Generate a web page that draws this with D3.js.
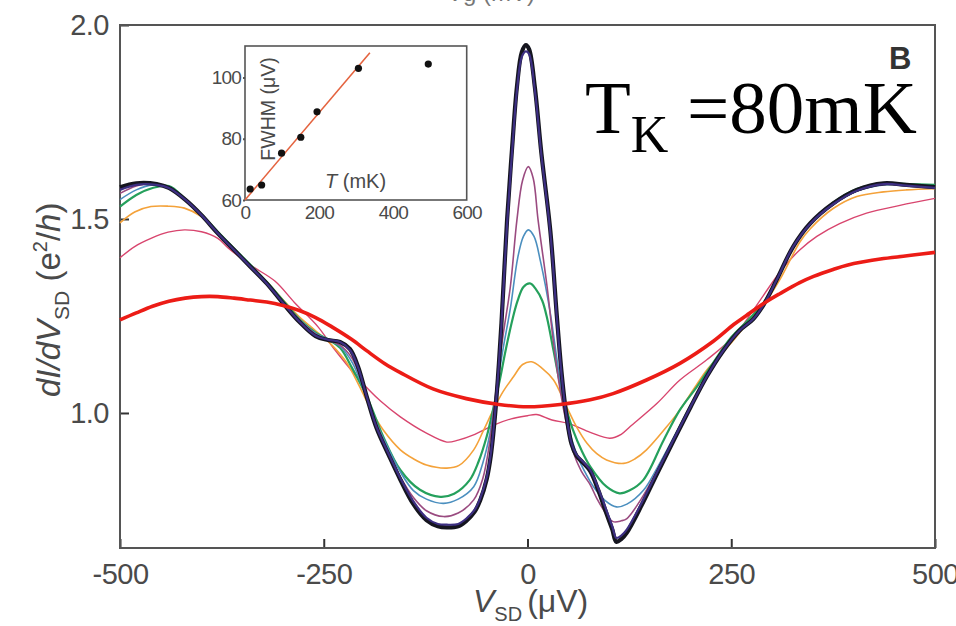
<!DOCTYPE html>
<html>
<head>
<meta charset="utf-8">
<script src="https://cdn.jsdelivr.net/npm/d3@7"></script>
<style>
  body { margin: 0; background: #fff; }
  svg { display: block; }
</style>
</head>
<body>
<svg id="chart" width="956" height="626"></svg>
<script>
// main panel: dI/dV vs V_SD, one trace per temperature, [V (uV), G (e^2/h)]
const traceBlack = [[-500,1.582],[-480,1.592],[-455,1.590],[-440,1.580],[-420,1.550],[-400,1.510],[-380,1.463],[-360,1.420],[-340,1.377],[-320,1.334],[-300,1.283],[-280,1.235],[-260,1.198],[-245,1.188],[-230,1.183],[-218,1.165],[-208,1.120],[-197,1.040],[-185,0.960],[-170,0.890],[-156,0.828],[-140,0.765],[-124,0.724],[-110,0.708],[-99,0.705],[-85,0.708],[-75,0.722],[-65,0.745],[-58,0.775],[-50,0.830],[-45,0.890],[-40,0.990],[-36,1.100],[-32,1.230],[-25,1.500],[-19,1.680],[-13,1.840],[-7,1.930],[-2,1.948],[2,1.937],[9,1.840],[17,1.670],[28,1.470],[36,1.250],[42,1.100],[48,0.990],[54,0.920],[60,0.890],[68,0.872],[77,0.850],[87,0.800],[97,0.740],[104,0.700],[109,0.668],[115,0.675],[122,0.692],[140,0.762],[160,0.848],[180,0.932],[200,1.015],[220,1.094],[240,1.160],[260,1.212],[277,1.242],[290,1.280],[305,1.340],[326,1.429],[347,1.489],[375,1.540],[404,1.575],[437,1.592],[465,1.588],[500,1.582]];
const traceNavy = [[-500,1.575],[-480,1.588],[-455,1.588],[-440,1.580],[-420,1.550],[-400,1.510],[-380,1.463],[-360,1.420],[-340,1.377],[-320,1.334],[-300,1.284],[-280,1.236],[-260,1.199],[-245,1.189],[-230,1.183],[-218,1.163],[-208,1.118],[-197,1.040],[-185,0.962],[-170,0.893],[-156,0.832],[-140,0.772],[-124,0.730],[-110,0.714],[-99,0.712],[-85,0.714],[-75,0.728],[-65,0.750],[-58,0.780],[-50,0.835],[-45,0.895],[-40,0.995],[-36,1.100],[-32,1.225],[-25,1.490],[-19,1.670],[-13,1.830],[-7,1.918],[-2,1.932],[2,1.925],[9,1.832],[17,1.665],[28,1.465],[36,1.245],[42,1.095],[48,0.990],[54,0.922],[60,0.893],[68,0.875],[77,0.853],[87,0.805],[97,0.748],[104,0.708],[109,0.678],[115,0.684],[122,0.700],[140,0.768],[160,0.852],[180,0.935],[200,1.016],[220,1.094],[240,1.160],[260,1.212],[277,1.242],[290,1.280],[305,1.340],[326,1.429],[347,1.488],[375,1.538],[404,1.573],[437,1.590],[465,1.586],[500,1.580]];
const traceMauve = [[-500,1.566],[-480,1.585],[-460,1.592],[-440,1.582],[-420,1.550],[-400,1.510],[-380,1.465],[-360,1.422],[-340,1.380],[-320,1.336],[-300,1.287],[-280,1.240],[-260,1.203],[-245,1.188],[-230,1.175],[-215,1.140],[-200,1.060],[-185,0.970],[-170,0.895],[-156,0.835],[-140,0.782],[-124,0.748],[-103,0.733],[-85,0.742],[-66,0.776],[-55,0.830],[-46,0.930],[-38,1.070],[-30,1.200],[-21,1.326],[-13,1.497],[-6,1.600],[1,1.635],[7,1.605],[13,1.497],[24,1.326],[32,1.180],[40,1.060],[48,0.970],[56,0.900],[66,0.850],[77,0.815],[85,0.780],[95,0.745],[105,0.720],[115,0.722],[122,0.728],[140,0.780],[160,0.855],[180,0.935],[200,1.017],[220,1.095],[240,1.161],[260,1.213],[277,1.243],[290,1.281],[305,1.340],[326,1.429],[347,1.488],[375,1.538],[404,1.572],[437,1.589],[465,1.587],[500,1.584]];
const traceBlue = [[-500,1.550],[-480,1.575],[-460,1.588],[-440,1.583],[-420,1.550],[-400,1.510],[-380,1.465],[-360,1.422],[-340,1.380],[-320,1.336],[-300,1.287],[-280,1.240],[-260,1.205],[-245,1.190],[-230,1.172],[-215,1.130],[-200,1.055],[-185,0.972],[-170,0.905],[-156,0.848],[-140,0.800],[-124,0.778],[-103,0.767],[-85,0.778],[-66,0.810],[-55,0.870],[-46,0.948],[-38,1.060],[-30,1.165],[-21,1.270],[-12,1.400],[-5,1.455],[1,1.472],[8,1.455],[16,1.390],[28,1.257],[36,1.140],[44,1.030],[52,0.950],[62,0.885],[72,0.842],[81,0.810],[95,0.775],[109,0.758],[122,0.765],[142,0.800],[160,0.862],[180,0.940],[200,1.020],[220,1.097],[240,1.162],[260,1.214],[277,1.244],[290,1.282],[305,1.340],[326,1.429],[347,1.487],[375,1.537],[404,1.572],[437,1.588],[465,1.588],[500,1.585]];
const traceGreen = [[-500,1.532],[-480,1.562],[-460,1.580],[-440,1.585],[-420,1.552],[-400,1.512],[-380,1.467],[-360,1.424],[-340,1.382],[-320,1.338],[-300,1.290],[-280,1.242],[-260,1.207],[-245,1.190],[-230,1.168],[-215,1.115],[-197,1.042],[-177,0.939],[-156,0.853],[-132,0.802],[-107,0.784],[-90,0.792],[-71,0.827],[-60,0.875],[-50,0.940],[-40,1.030],[-34,1.085],[-27,1.160],[-18,1.245],[-12,1.290],[-5,1.325],[3,1.334],[10,1.320],[18,1.290],[24,1.245],[32,1.160],[40,1.075],[48,1.008],[56,0.955],[66,0.905],[77,0.862],[97,0.810],[113,0.793],[125,0.800],[142,0.827],[167,0.930],[187,1.008],[208,1.068],[228,1.130],[250,1.195],[270,1.238],[290,1.285],[305,1.342],[326,1.430],[347,1.490],[375,1.542],[404,1.577],[437,1.592],[465,1.590],[500,1.588]];
const traceOrange = [[-500,1.490],[-482,1.518],[-462,1.532],[-441,1.533],[-421,1.528],[-400,1.506],[-380,1.463],[-360,1.422],[-340,1.380],[-320,1.338],[-300,1.292],[-280,1.248],[-260,1.212],[-240,1.175],[-222,1.130],[-206,1.068],[-190,1.000],[-177,0.956],[-156,0.905],[-140,0.882],[-124,0.866],[-99,0.858],[-84,0.865],[-66,0.905],[-54,0.955],[-42,1.008],[-30,1.055],[-17,1.094],[-6,1.125],[5,1.132],[18,1.115],[32,1.085],[48,1.016],[60,0.965],[73,0.922],[85,0.895],[97,0.879],[118,0.870],[132,0.882],[146,0.905],[171,0.965],[187,1.008],[205,1.065],[220,1.111],[237,1.150],[253,1.188],[270,1.232],[290,1.280],[310,1.345],[334,1.440],[347,1.475],[375,1.527],[404,1.558],[437,1.570],[465,1.575],[500,1.578]];
const traceCrimson = [[-500,1.400],[-482,1.429],[-462,1.450],[-441,1.466],[-421,1.472],[-400,1.467],[-380,1.450],[-367,1.425],[-339,1.380],[-310,1.340],[-286,1.285],[-257,1.222],[-239,1.170],[-222,1.125],[-206,1.085],[-180,1.030],[-156,0.990],[-124,0.948],[-99,0.925],[-85,0.930],[-67,0.943],[-40,0.970],[-20,0.985],[0,0.993],[11,0.996],[30,0.982],[52,0.972],[77,0.950],[101,0.935],[115,0.945],[126,0.965],[159,1.025],[187,1.085],[220,1.137],[253,1.197],[277,1.265],[300,1.335],[314,1.375],[334,1.420],[355,1.455],[383,1.488],[416,1.515],[457,1.535],[500,1.553]];
const traceRed = [[-500,1.240],[-480,1.258],[-460,1.275],[-440,1.288],[-420,1.296],[-400,1.300],[-380,1.300],[-360,1.296],[-340,1.291],[-320,1.286],[-300,1.277],[-280,1.264],[-260,1.246],[-240,1.222],[-216,1.190],[-197,1.160],[-175,1.127],[-156,1.104],[-116,1.062],[-75,1.037],[-35,1.022],[0,1.016],[40,1.022],[77,1.034],[105,1.050],[146,1.085],[187,1.128],[228,1.185],[253,1.228],[269,1.252],[294,1.288],[310,1.308],[334,1.336],[351,1.352],[375,1.370],[392,1.381],[437,1.398],[473,1.407],[500,1.414]];

const xTicks = [-500, -250, 0, 250, 500];
const yTicks = [1.0, 1.5, 2.0];

// inset: peak width vs temperature
const insetT = [14, 45, 99, 151, 195, 307, 496];
const insetFWHM = [63.6, 64.9, 75.3, 80.5, 88.8, 103.0, 104.4];
const fitT = [0, 338];
const fitFWHM = [60, 108.1];
const insetXTicks = [0, 200, 400, 600];
const insetYTicks = [60, 80, 100];

const svg = d3.select("#chart");
const labelFont = "'Liberation Sans', Arial, sans-serif";
const gray = "#4a4a4a";

const x = d3.scaleLinear().domain([-500, 500]).range([120, 935]);
const y = d3.scaleLinear().domain([0.652, 2.0]).range([548, 25]);

// cut-off label of the panel above
svg.append("text")
  .attr("x", 447).attr("y", 1)
  .attr("font-family", labelFont).attr("font-size", 24)
  .attr("fill", "#777")
  .text("Vg (mV)");

// axes
svg.append("g")
  .attr("transform", "translate(0,548)")
  .call(d3.axisBottom(x).tickValues(xTicks).tickFormat(d => String(d))
    .tickSizeInner(-9).tickSizeOuter(0).tickPadding(15))
  .call(g => g.select(".domain").remove())
  .call(g => g.selectAll("line").attr("stroke", "#333").attr("stroke-width", 2))
  .call(g => g.selectAll("text").attr("font-family", labelFont).attr("font-size", 29)
    .attr("fill", gray).attr("letter-spacing", -0.5));

svg.append("g")
  .attr("transform", "translate(120,0)")
  .call(d3.axisLeft(y).tickValues(yTicks).tickFormat(d3.format(".1f"))
    .tickSizeInner(-9).tickSizeOuter(0).tickPadding(11))
  .call(g => g.select(".domain").remove())
  .call(g => g.selectAll("line").attr("stroke", "#333").attr("stroke-width", 2))
  .call(g => g.selectAll("text").attr("font-family", labelFont).attr("font-size", 29)
    .attr("fill", gray).attr("letter-spacing", -0.5));

// frame
svg.append("rect")
  .attr("x", 120).attr("y", 25)
  .attr("width", 815).attr("height", 523)
  .attr("fill", "none").attr("stroke", "#555").attr("stroke-width", 2);

// traces (warmest first, coldest on top, red last)
const traces = [
  { data: traceCrimson, color: "#d8456e", width: 1.4 },
  { data: traceOrange, color: "#f4a23a", width: 1.6 },
  { data: traceGreen, color: "#25a05c", width: 2.2 },
  { data: traceBlue, color: "#4b8fbf", width: 1.6 },
  { data: traceMauve, color: "#9a4b80", width: 1.6 },
  { data: traceBlack, color: "#15151f", width: 4.2 },
  { data: traceNavy, color: "#3d2f82", width: 2.2 },
  { data: traceRed, color: "#ec1c16", width: 3.6 }
];

const line = d3.line()
  .x(d => x(d[0]))
  .y(d => y(d[1]))
  .curve(d3.curveCatmullRom.alpha(0.5));

svg.append("g")
  .selectAll("path")
  .data(traces)
  .enter()
  .append("path")
  .attr("d", d => line(d.data))
  .attr("fill", "none")
  .attr("stroke", d => d.color)
  .attr("stroke-width", d => d.width)
  .attr("stroke-linejoin", "round");

// axis titles
const xt = svg.append("text")
  .attr("x", 473).attr("y", 612)
  .attr("font-family", labelFont).attr("font-size", 32).attr("fill", gray);
xt.append("tspan").attr("font-style", "italic").text("V");
xt.append("tspan").attr("font-size", 20).attr("dy", 9).text("SD");
xt.append("tspan").attr("dy", -9).attr("dx", 5).text("(\u03bcV)");

const yt = svg.append("text")
  .attr("transform", "translate(60,397) rotate(-90)")
  .attr("font-family", labelFont).attr("font-size", 33).attr("fill", gray);
yt.append("tspan").attr("font-style", "italic").text("dI/dV");
yt.append("tspan").attr("font-size", 21).attr("dy", 9).text("SD");
yt.append("tspan").attr("dy", -9).text(" (e");
yt.append("tspan").attr("font-size", 20).attr("dy", -13).text("2");
yt.append("tspan").attr("dy", 13).text("/");
yt.append("tspan").attr("font-style", "italic").text("h");
yt.append("tspan").text(")");

// panel letter
svg.append("text")
  .attr("x", 889).attr("y", 69)
  .attr("font-family", labelFont).attr("font-size", 31).attr("font-weight", "bold")
  .attr("fill", "#333").text("B");

// Kondo temperature annotation
const tk = svg.append("text")
  .attr("x", 585).attr("y", 133)
  .attr("font-family", "'Liberation Serif', 'Times New Roman', serif")
  .attr("font-size", 75).attr("fill", "#000");
tk.append("tspan").text("T");
tk.append("tspan").attr("font-size", 52).attr("dy", 19).text("K");
tk.append("tspan").attr("x", 687).attr("dy", -19).text("=80mK");

// inset
const ix = d3.scaleLinear().domain([0, 600]).range([245, 466.7]);
const iy = d3.scaleLinear().domain([60, 110.3]).range([200, 46]);

svg.append("rect")
  .attr("x", 245).attr("y", 46)
  .attr("width", 221.7).attr("height", 154)
  .attr("fill", "#fff").attr("stroke", "#555").attr("stroke-width", 1.6);

svg.append("g")
  .attr("transform", "translate(0,200)")
  .call(d3.axisBottom(ix).tickValues(insetXTicks).tickSize(0).tickPadding(6))
  .call(g => g.select(".domain").remove())
  .call(g => g.selectAll("text").attr("font-family", labelFont).attr("font-size", 19)
    .attr("fill", gray).attr("letter-spacing", -0.8));

svg.append("g")
  .attr("transform", "translate(245,0)")
  .call(d3.axisLeft(iy).tickValues(insetYTicks).tickSize(2).tickPadding(2))
  .call(g => g.select(".domain").remove())
  .call(g => g.selectAll("line").attr("stroke", "#555").attr("stroke-width", 2))
  .call(g => g.selectAll("text").attr("font-family", labelFont).attr("font-size", 19)
    .attr("fill", gray).attr("letter-spacing", -0.8));

svg.append("line")
  .attr("x1", ix(fitT[0])).attr("y1", iy(fitFWHM[0]))
  .attr("x2", ix(fitT[1])).attr("y2", iy(fitFWHM[1]))
  .attr("stroke", "#e4633f").attr("stroke-width", 1.6);

svg.append("g")
  .selectAll("circle")
  .data(insetT.map((t, i) => [t, insetFWHM[i]]))
  .enter()
  .append("circle")
  .attr("cx", d => ix(d[0]))
  .attr("cy", d => iy(d[1]))
  .attr("r", 3.6)
  .attr("fill", "#111");

svg.append("text")
  .attr("transform", "translate(275,109) rotate(-90)")
  .attr("text-anchor", "middle")
  .attr("font-family", labelFont).attr("font-size", 19.5).attr("fill", gray)
  .text("FWHM (\u03bcV)");

const it = svg.append("text")
  .attr("x", 325).attr("y", 188)
  .attr("font-family", labelFont).attr("font-size", 20).attr("fill", gray);
it.append("tspan").attr("font-style", "italic").text("T");
it.append("tspan").text(" (mK)");
</script>
</body>
</html>
